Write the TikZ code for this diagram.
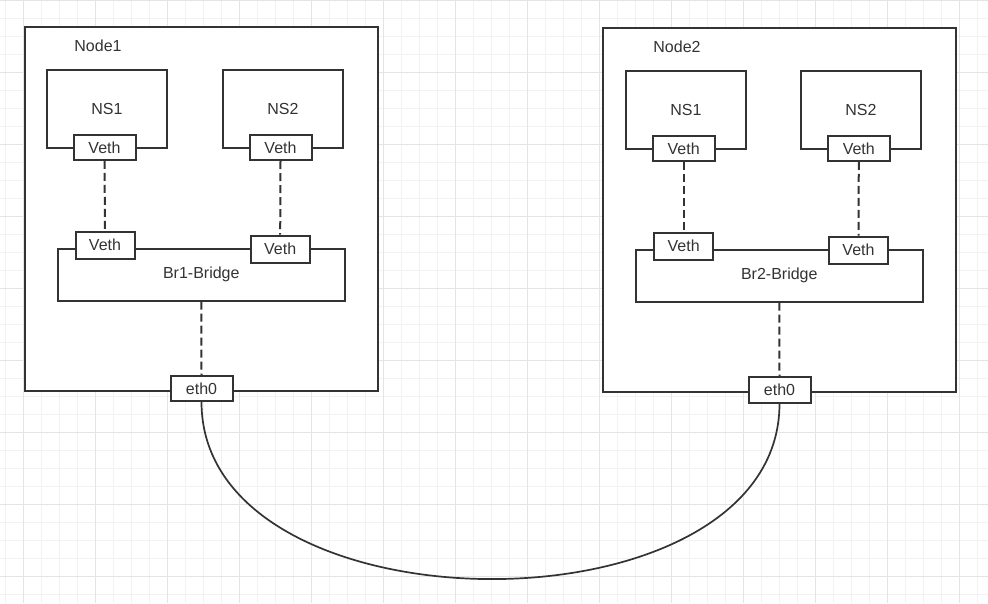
\documentclass[tikz,border=0pt]{standalone}
\usepackage{fontspec}
\setmainfont{Liberation Sans}
\definecolor{ink}{HTML}{333333}
\definecolor{gridminor}{HTML}{F2F2F2}
\definecolor{gridmajor}{HTML}{E4E4E4}
\tikzset{
  box/.style={draw=ink,line width=2pt,rectangle,inner sep=0pt},
  hostbox/.style={box,minimum width=353pt,minimum height=364pt},
  nsbox/.style={box,minimum width=120.5pt,minimum height=77.7pt,text=ink},
  brbox/.style={box,minimum width=287.3pt,minimum height=52pt,text=ink},
  port/.style={box,fill=white,text=ink,minimum width=62pt,minimum height=25pt},
  bport/.style={port,minimum width=59pt,minimum height=27pt},
  tag/.style={text=ink,inner sep=0pt},
  link/.style={draw=ink,line width=2pt,dash pattern=on 8pt off 4pt},
  wire/.style={draw=ink,line width=1.7pt}
}
\begin{document}
\begin{tikzpicture}[x=1pt,y=-1pt,font=\fontsize{16}{19}\selectfont]
\useasboundingbox (0,0) rectangle (988,603);
\fill[white](0,0) rectangle (988,603);
\foreach \x in {5.7,23.7,...,988}\draw[gridminor,line width=1pt](\x,0)--(\x,603);
\foreach \y in {18,36,...,603}\draw[gridminor,line width=1pt](0,\y)--(988,\y);
\foreach \x in {23.7,95.7,...,988}\draw[gridmajor,line width=1pt](\x,0)--(\x,603);
\foreach \y in {0,72,...,603}\draw[gridmajor,line width=1pt](0,\y)--(988,\y);
% Node1
\node[hostbox,fill=white] (host1) at (201.5,209){};\node[tag] (lbl1) at (98,46){Node1};
\node[nsbox] (ns11) at (107,109){NS1};\node[nsbox] (ns12) at (283,109){NS2};
\node[brbox] (br1) at (201.3,274.7){Br1-Bridge};
\node[port] (v11) at (104.5,147.3){Veth};\node[port] (v12) at (280.5,147.5){Veth};
\node[bport] (b11) at (105,245.2){Veth};\node[bport] (b12) at (280.2,249){Veth};
\node[port] (eth1) at (201.5,388.5){eth0};
\draw[link](v11.south)--(b11.north);\draw[link](v12.south)--(b12.north);\draw[link](br1.south)--(eth1.north);
% Node2
\node[hostbox,fill=white] (host2) at (779.5,209.5){};\node[tag] (lbl2) at (677,47){Node2};
\node[nsbox] (ns21) at (686,110){NS1};\node[nsbox] (ns22) at (861,110){NS2};
\node[brbox] (br2) at (779.3,275.7){Br2-Bridge};
\node[port] (v21) at (683.7,148.3){Veth};\node[port] (v22) at (858.8,148.3){Veth};
\node[bport] (b21) at (683.7,246.2){Veth};\node[bport] (b22) at (858.5,250){Veth};
\node[port,minimum height=25.7pt] (eth2) at (779.5,389.8){eth0};
\draw[link](v21.south)--(b21.north);\draw[link](v22.south)--(b22.north);\draw[link](br2.south)--(eth2.north);
\draw[wire](eth1.south) .. controls +(0,235) and +(0,235) .. (eth2.south);
\end{tikzpicture}
\end{document}
